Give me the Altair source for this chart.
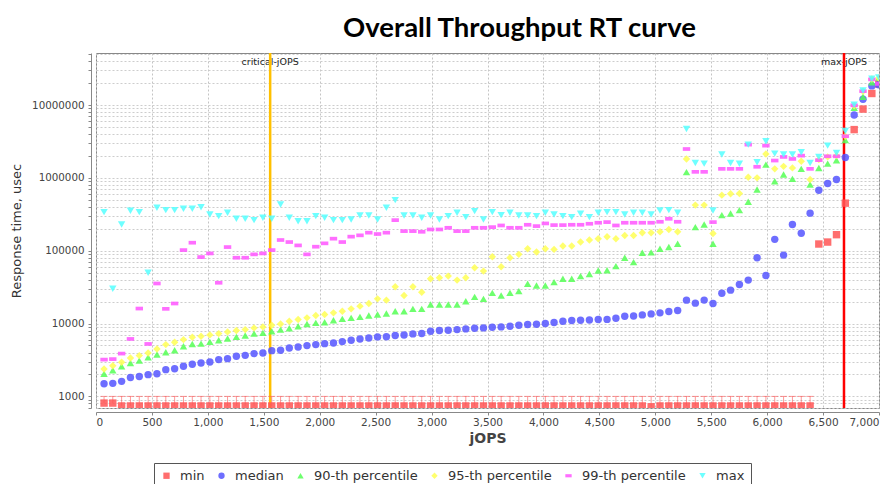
import altair as alt
import pandas as pd

# ---------------- data ----------------
x_jops = [72, 150, 229, 308, 387, 466, 545, 624, 703, 782,
          861, 939, 1018, 1097, 1176, 1255, 1334, 1413, 1492, 1571,
          1650, 1728, 1807, 1886, 1965, 2044, 2123, 2202, 2281, 2360,
          2439, 2517, 2596, 2675, 2754, 2833, 2912, 2991, 3070, 3149,
          3228, 3306, 3385, 3464, 3543, 3622, 3701, 3780, 3859, 3938,
          4017, 4095, 4174, 4253, 4332, 4411, 4490, 4569, 4648, 4727,
          4806, 4884, 4963, 5042, 5121, 5200, 5279, 5358, 5437, 5516,
          5595, 5673, 5752, 5831, 5910, 5989, 6068, 6147, 6226, 6305,
          6384, 6462, 6541, 6620, 6699, 6778, 6857, 6936, 6998]

min_v = [810, 810, 740, 740, 740, 740, 740, 740, 740, 740,
         740, 740, 740, 740, 740, 740, 740, 740, 740, 740,
         740, 740, 740, 740, 740, 740, 740, 740, 740, 740,
         740, 740, 740, 740, 740, 740, 740, 740, 740, 740,
         740, 740, 740, 740, 740, 740, 740, 740, 740, 740,
         740, 740, 740, 740, 740, 740, 740, 740, 740, 740,
         740, 740, 720, 740, 740, 740, 740, 740, 740, 740,
         740, 740, 740, 740, 740, 740, 740, 740, 740, 740,
         740, 123600, 131500, 166000, 449800, 4600000, 8800000, 14400000, 19400000]

median_v = [1490, 1510, 1610, 1820, 1880, 1990, 2050, 2330, 2400, 2590,
            2760, 2870, 2970, 3200, 3300, 3550, 3660, 3870, 3950, 4250,
            4290, 4620, 4770, 4980, 5140, 5300, 5420, 5650, 5900, 6150,
            6350, 6560, 6600, 6840, 6980, 7210, 7300, 7840, 8010, 8090,
            8260, 8450, 8630, 8720, 8900, 9000, 9190, 9490, 9690, 9790,
            10000, 10330, 10770, 11000, 11110, 11200, 11350, 11400, 11840, 12620,
            12700, 13150, 13580, 14020, 14630, 15100, 20960, 19070, 21000, 18850,
            26130, 28740, 34420, 39480, 80100, 45770, 143200, 87100, 229600, 174000,
            328000, 677000, 836000, 949000, 1900000, 7300000, 12000000, 18300000, 19000000]

p90_v = [2050, 2280, 2590, 2870, 3100, 3440, 3750, 4030, 4300, 4880,
         5250, 5300, 5600, 5900, 6220, 6560, 6840, 7280, 7440, 7840,
         8260, 8630, 9190, 9880, 10210, 10430, 11110, 11590, 11970, 12350,
         12890, 13300, 13740, 14790, 14790, 15920, 15920, 18250, 18250, 18250,
         18250, 20280, 23270, 21830, 26400, 24270, 26400, 27860, 35150, 33350,
         33350, 37050, 41180, 41180, 44790, 48000, 53600, 54000, 61500, 80100,
         69800, 93700, 95000, 106600, 112300, 124800, 1200000, 210800, 229600, 124800,
         308000, 324600, 360500, 469000, 692000, 1520000, 900000, 1110000, 968000, 1330000,
         811000, 1370000, 1570000, 1750000, 3300000, 9200000, 13000000, 20500000, 23800000]

p95_v = [2380, 2640, 2940, 3370, 3630, 3950, 4480, 5140, 5530, 6020,
         6490, 6700, 6990, 7280, 7680, 8010, 8260, 8720, 9000, 9490,
         9880, 10770, 11350, 11970, 12890, 13300, 14020, 14790, 15920, 17330,
         18850, 21830, 20960, 31990, 24270, 31990, 26960, 41180, 42470, 44790,
         39480, 42470, 58340, 52480, 82600, 60250, 80100, 89100, 106600, 95900,
         106600, 104300, 115900, 115900, 131500, 140000, 146000, 155500, 146000, 162000,
         162000, 176600, 176600, 182000, 196000, 182000, 1820000, 422900, 422900, 172600,
         579000, 604000, 610000, 1020000, 1000000, 2130000, 1330000, 1440000, 1370000, 1690000,
         949000, 1780000, 1940000, 2020000, 3720000, 9800000, 15500000, 22800000, 23500000]

p99_v = [3200, 3250, 3870, 6150, 16070, 5250, 35500, 15920, 18850, 102000,
         128800, 81800, 91800, 36300, 112200, 80100, 80100, 89100, 91800, 102000,
         140300, 131500, 118300, 89100, 113500, 126200, 146300, 131500, 156000, 162600,
         176900, 169500, 176900, 263000, 185800, 185800, 181900, 195800, 195800, 206400,
         185800, 185800, 206400, 206400, 210800, 222200, 206400, 206400, 227000, 217700,
         236900, 224700, 224700, 227000, 227000, 234400, 242000, 247000, 222200, 242000,
         242000, 242000, 242000, 249600, 274400, 249600, 2490000, 1210000, 1210000, 247000,
         1330000, 1330000, 1330000, 2860000, 1420000, 2770000, 1730000, 1940000, 1820000, 2020000,
         1330000, 1750000, 1980000, 1980000, 3730000, 9900000, 15500000, 22500000, 19500000]

max_v = [338800, 30000, 229600, 353300, 338800, 49800, 388200, 360600, 360600, 375900,
         375900, 396000, 314500, 298300, 331700, 274400, 274400, 263000, 283000, 274400,
         431600, 283000, 254500, 254500, 298300, 283000, 263000, 263000, 268600, 304800,
         304800, 268600, 388200, 494400, 304800, 304800, 283000, 304800, 268600, 298300,
         331700, 289000, 349500, 268600, 338800, 308000, 331700, 304800, 304800, 298300,
         331700, 314500, 298300, 289000, 321300, 289000, 331700, 338800, 338800, 314500,
         331700, 331700, 314500, 357000, 360600, 331700, 4690000, 1600000, 1570000, 357000,
         2090000, 1600000, 1560000, 2860000, 1640000, 3180000, 2150000, 2090000, 2090000, 2250000,
         1600000, 1940000, 2770000, 2200000, 4400000, 10100000, 15800000, 23000000, 24000000]

# the small red "T" marks above the min squares reach this level
t_cap_level = 1000
t_count = 81

series_names = ["min", "median", "90-th percentile", "95-th percentile",
                "99-th percentile", "max"]
series_colors = ["#FF5555", "#5555FF", "#55FF55", "#FFFF55", "#FF55FF", "#55FFFF"]
series_shapes = ["square", "circle", "triangle-up", "diamond",
                 "M-1,-0.5L1,-0.5L1,0.5L-1,0.5Z", "triangle-down"]

x_ticks = [0, 500, 1000, 1500, 2000, 2500, 3000, 3500, 4000, 4500,
           5000, 5500, 6000, 6500, 7000]
y_major = [1000, 10000, 100000, 1000000, 10000000]
y_grid = [700, 800, 900,
          1000, 2000, 3000, 4000, 5000, 6000, 7000, 8000, 9000,
          10000, 20000, 30000, 40000, 50000, 60000, 70000, 80000, 90000,
          100000, 200000, 300000, 400000, 500000, 600000, 700000, 800000, 900000,
          1000000, 2000000, 3000000, 4000000, 5000000, 6000000, 7000000, 8000000, 9000000,
          10000000, 20000000, 30000000, 40000000, 50000000]

marker_names = ["critical-jOPS", "max-jOPS"]
marker_jops = [1557, 6687]
marker_colors = ["#FFC000", "#FF0000"]

# ---------------- tables ----------------
rows = []
for order, (name, vals) in enumerate(zip(series_names,
                                         [min_v, median_v, p90_v, p95_v, p99_v, max_v])):
    for xj, v in zip(x_jops, vals):
        rows.append({"jops": xj, "rt": v, "series": name, "ord": order})
df = pd.DataFrame(rows)

t_df = pd.DataFrame({"jops": x_jops[:t_count], "rt": min_v[:t_count],
                     "cap": [t_cap_level] * t_count})
m_df = pd.DataFrame({"name": marker_names, "jops": marker_jops, "col": marker_colors})

# ---------------- scales / axes ----------------
X_SCALE = alt.Scale(domain=[0, 7000], nice=False, zero=False)
Y_SCALE = alt.Scale(type="log", domain=[693, 51800000], nice=False)

x_axis = alt.Axis(values=x_ticks, format=",d", labelFont="DejaVu Sans", labelFontSize=10.5,
                  labelColor="#444444", labelPadding=2, tickSize=3, tickColor="#888888",
                  domainColor="#888888", offset=4, grid=True, gridColor="#c4c4c4",
                  gridDash=[2, 2], labelOverlap=False,
                  titleFont="DejaVu Sans", titleFontSize=14, titleFontWeight="bold",
                  titleColor="#444444", titlePadding=4)

y_axis = alt.Axis(values=y_grid, format="d",
                  labelExpr="indexof([1000,10000,100000,1000000,10000000], datum.value) >= 0 ? datum.label : ''",
                  labelFont="DejaVu Sans", labelFontSize=10.3, labelColor="#444444",
                  labelPadding=4, tickSize=3, tickColor="#888888", domainColor="#888888",
                  offset=5, grid=True, gridColor="#cdcdcd", gridDash=[2, 2],
                  labelOverlap=False,
                  titleFont="DejaVu Sans", titleFontSize=13, titleFontWeight="normal",
                  titleColor="#333333", titlePadding=8)

legend = alt.Legend(title=None, orient="none", legendX=58, legendY=410,
                    direction="horizontal", columns=6, strokeColor="#555555",
                    padding=6, labelFont="DejaVu Sans", labelFontSize=13,
                    labelColor="#333333", symbolSize=40, symbolStrokeWidth=0,
                    columnPadding=10, labelOffset=7, fillColor="white")

# ---------------- layers ----------------
marker_text = alt.Chart(m_df).mark_text(font="DejaVu Sans", fontSize=9.5, color="#222222",
                                        align="center", baseline="middle").encode(
    x=alt.X("jops:Q", scale=X_SCALE, axis=x_axis, title="jOPS"),
    y=alt.value(9),
    text="name:N",
)

marker_lines = alt.Chart(m_df).mark_rule(strokeWidth=2.5).encode(
    x=alt.X("jops:Q", scale=X_SCALE, axis=x_axis, title="jOPS"),
    color=alt.Color("col:N", scale=None),
)

t_rule = alt.Chart(t_df).mark_rule(color="#FF5555", opacity=0.6, strokeWidth=1, clip=True).encode(
    x=alt.X("jops:Q", scale=X_SCALE, axis=x_axis, title="jOPS"),
    y=alt.Y("rt:Q", scale=Y_SCALE, axis=y_axis, title="Response time, usec"),
    y2="cap:Q",
)

t_cap = alt.Chart(t_df).mark_point(shape="M-1,0L1,0", size=49, filled=False, color="#FF5555",
                                   opacity=0.6, strokeWidth=1, clip=True).encode(
    x=alt.X("jops:Q", scale=X_SCALE, axis=x_axis, title="jOPS"),
    y=alt.Y("cap:Q", scale=Y_SCALE, axis=y_axis, title="Response time, usec"),
)

points = alt.Chart(df).mark_point(filled=True, size=55, opacity=0.85, clip=True).encode(
    x=alt.X("jops:Q", scale=X_SCALE, axis=x_axis, title="jOPS"),
    y=alt.Y("rt:Q", scale=Y_SCALE, axis=y_axis, title="Response time, usec"),
    color=alt.Color("series:N", scale=alt.Scale(domain=series_names, range=series_colors),
                    legend=legend),
    shape=alt.Shape("series:N", scale=alt.Scale(domain=series_names, range=series_shapes),
                    legend=legend),
    order=alt.Order("ord:Q"),
)

chart = alt.layer(marker_text, marker_lines, t_rule, t_cap, points).properties(
    width=783,
    height=355,
    padding={"left": 88, "top": 45, "right": 7, "bottom": 76},
    autosize=alt.AutoSizeParams(type="none"),
    title=alt.TitleParams("Overall Throughput RT curve", font="Lato", fontSize=27.5,
                          fontWeight="bold", color="#000000", anchor="middle",
                          frame="group", dx=32, offset=-15, baseline="alphabetic"),
).configure_view(stroke="#888888", strokeWidth=1)

chart.save("out.html", embed_options={"renderer": "svg", "actions": False})
